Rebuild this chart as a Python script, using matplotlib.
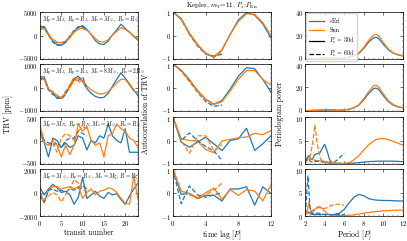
import numpy as np
import matplotlib
matplotlib.use("Agg")
import matplotlib.pyplot as plt
import matplotlib.transforms as mtrans
from matplotlib.ticker import AutoMinorLocator

# ---------------- data ----------------
transit_30 = list(range(24))
transit_60 = list(range(12))
lags_30 = list(range(13))
lags_60 = list(range(7))

# TRV [ppm], per row (4 scenarios)
TRV_ERI_30 = [
    [1800, 1900, 300, -1200, -1900, -2100, -1500, -300, 900, 1700, 2100, 1300, 200, -1100, -1800, -1900, -1200, 100, 1200, 2400, 1500, 700, -200, -1000],
    [450, 450, -80, -210, -470, -450, -250, 50, 380, 480, 250, -50, -250, -380, -440, -420, -250, 50, 350, 620, 400, 150, -100, -340],
    [150, -50, -350, 50, 0, -150, -50, -150, -100, 100, 50, -200, 0, -50, 100, 50, 350, 100, 0, -50, 250, -250, -250, -250],
    [400, -200, 300, 700, 400, 0, 100, -200, -1000, -400, 1300, -500, -200, 100, -300, -500, 0, -200, -100, -600, -1000, -300, 300, 800],
]
TRV_SUN_30 = [
    [1300, 1600, 200, -800, -1400, -1600, -1300, -500, 700, 1300, 1700, 1200, 300, -700, -1300, -1400, -900, 100, 900, 1700, 1300, 700, -100, -700],
    [380, 350, -50, -200, -350, -420, -250, 0, 300, 400, 300, 50, -100, -200, -280, -260, -180, 0, 200, 350, 350, 100, -150, -200],
    [350, -50, -100, 0, -100, -350, -100, -300, -100, 350, 200, 300, 0, -100, -50, -350, 100, 150, 350, 250, 200, 50, 0, -150],
    [-300, -900, 200, 500, 500, 300, 400, 500, 300, 500, -500, 0, 300, -200, 100, 200, 400, 300, 0, -500, -900, -1000, 1400, -600],
]
TRV_ERI_60 = [
    [2000, 1700, 100, -1400, -2100, -2000, -1300, -100, 1100, 1900, 2000, 1000],
    [400, 350, -100, -300, -400, -500, -300, 100, 350, 300, 450, 0],
    [200, 0, -50, -100, -50, -150, 0, 50, 50, 200, 150, 100],
    [-200, -800, 200, 300, 100, 200, 0, 300, 200, 400, 600, 300],
]
TRV_SUN_60 = [
    [1500, 1400, 0, -1000, -1500, -1500, -1100, -300, 900, 1500, 1500, 900],
    [300, 400, -150, -150, -350, -450, -150, 100, 450, 200, 350, -50],
    [150, -50, -100, -50, -250, 50, 150, 100, 0, 200, 300, 250],
    [0, -600, -300, 0, -200, -800, -200, 300, 1100, 800, 200, 100],
]

# Autocorrelation of TRV
ACF_ERI_30 = [
    [1, 0.70, 0.09, -0.40, -0.76, -0.93, -0.62, 0.05, 0.66, 0.97, 0.87, 0.49, -0.10],
    [1, 0.74, 0.34, -0.15, -0.50, -0.71, -0.55, -0.07, 0.48, 0.84, 0.80, 0.34, -0.20],
    [1, -0.07, -0.29, -0.07, 0.14, -0.14, -0.43, 0.00, 0.07, 0.52, -0.42, -0.14, 0.20],
    [1, -0.08, -0.04, -0.26, -0.12, -0.12, -0.36, 0.15, 0.15, 0.24, -0.54, 0.24, -0.04],
]
ACF_SUN_30 = [
    [1, 0.72, 0.10, -0.38, -0.75, -0.90, -0.60, 0.05, 0.60, 0.93, 0.90, 0.55, 0.00],
    [1, 0.72, 0.32, -0.12, -0.50, -0.72, -0.60, -0.15, 0.35, 0.72, 0.72, 0.35, 0.10],
    [1, 0.07, 0.00, -0.03, -0.38, -0.52, -0.02, 0.05, 0.12, 0.15, 0.30, 0.25, 0.42],
    [1, 0.06, -0.04, -0.22, -0.01, 0.19, -0.29, 0.12, -0.12, 0.12, 0.06, -0.36, 0.33],
]
ACF_ERI_60 = [
    [1, 0.70, 0.05, -0.45, -0.80, -0.88, -0.80],
    [1, 0.70, 0.30, -0.20, -0.60, -0.80, -0.75],
    [1, 0.00, 0.32, 0.00, -0.25, -0.45, -0.84],
    [1, -0.48, 0.28, -0.10, -0.20, -0.10, 0.00],
]
ACF_SUN_60 = [
    [1, 0.72, 0.08, -0.42, -0.78, -0.92, -0.70],
    [1, 0.70, 0.25, -0.20, -0.55, -0.70, -0.60],
    [1, 0.00, -0.55, 0.20, 0.20, -0.43, -0.17],
    [1, 0.00, -0.10, -0.25, -0.10, 0.10, 0.40],
]

# Periodogram power
period_30 = [2, 2.2, 2.4, 2.6, 2.8, 3, 3.25, 3.5, 3.75, 4, 4.25, 4.5, 4.75, 5, 5.5, 6,
             6.5, 7, 7.5, 8, 8.5, 9, 9.25, 9.5, 10, 10.5, 11, 11.5, 12]
period_60 = [2, 2.1, 2.2, 2.3, 2.4, 2.5, 2.6, 2.8, 3.0, 3.2, 3.4, 3.6, 3.8, 4, 4.25,
             4.5, 4.75, 5, 5.25, 5.5, 5.75, 6]
PG_ERI_30 = [
    [0.2, 0.2, 0.3, 0.3, 0.3, 0.3, 0.4, 0.5, 0.6, 0.7, 0.9, 1.0, 0.8, 0.5, 0.4, 0.7, 1.4, 2.5, 4.8, 9.0, 14.5, 18.0, 18.5, 17.5, 12.5, 7.8, 5.0, 3.5, 2.6],
    [0.3, 0.3, 0.3, 0.4, 0.4, 0.4, 0.5, 0.6, 0.7, 0.8, 1.0, 1.1, 0.9, 0.6, 0.5, 0.8, 1.5, 2.6, 5.0, 9.5, 15.0, 19.0, 19.5, 18.5, 13.0, 8.0, 5.0, 3.5, 2.6],
    [0.3, 1.3, 1.8, 1.0, 1.2, 2.0, 2.2, 2.3, 3.3, 4.2, 2.8, 1.0, 0.3, 0.2, 0.1, 0.1, 0.15, 0.2, 0.3, 0.4, 0.5, 0.55, 0.6, 0.6, 0.6, 0.6, 0.6, 0.55, 0.5],
    [0.3, 1.0, 0.8, 0.4, 0.3, 0.3, 0.3, 0.3, 0.3, 0.3, 0.3, 0.3, 0.3, 0.35, 0.6, 1.4, 2.8, 4.0, 4.6, 4.3, 3.7, 3.45, 3.4, 3.35, 3.3, 3.3, 3.25, 3.2, 3.2],
]
PG_SUN_30 = [
    [0.2, 0.2, 0.3, 0.3, 0.3, 0.3, 0.4, 0.5, 0.6, 0.8, 1.0, 1.2, 0.9, 0.6, 0.4, 0.8, 1.5, 2.8, 5.3, 10.0, 16.0, 20.3, 21.0, 19.8, 14.0, 8.5, 5.3, 3.7, 2.8],
    [0.3, 0.3, 0.3, 0.4, 0.4, 0.5, 0.6, 0.7, 0.8, 1.0, 1.2, 1.3, 1.0, 0.7, 0.5, 0.9, 1.6, 2.9, 5.5, 10.5, 16.5, 21.5, 22.0, 20.5, 14.5, 8.8, 5.5, 3.8, 2.8],
    [0.4, 1.0, 1.4, 1.1, 0.9, 0.8, 0.7, 0.65, 0.6, 0.55, 0.5, 0.4, 0.3, 0.2, 0.1, 0.1, 0.3, 0.9, 1.8, 3.0, 4.1, 4.9, 5.2, 5.35, 5.4, 5.2, 4.8, 4.4, 4.0],
    [0.3, 0.8, 3.0, 1.2, 0.8, 1.4, 1.9, 2.0, 1.6, 1.0, 0.5, 0.25, 0.15, 0.1, 0.1, 0.1, 0.15, 0.25, 0.4, 0.6, 0.75, 0.9, 0.95, 1.0, 1.1, 1.15, 1.2, 1.25, 1.25],
]
PG_ERI_60 = [
    [0.1, 0.1, 0.2, 0.2, 0.2, 0.2, 0.2, 0.3, 0.3, 0.3, 0.3, 0.3, 0.4, 0.4, 0.5, 0.5, 0.5, 0.4, 0.4, 0.3, 0.3, 0.3],
    [0.3, 0.3, 0.3, 0.3, 0.4, 0.4, 0.4, 0.4, 0.5, 0.5, 0.5, 0.6, 0.6, 0.7, 0.8, 0.8, 0.7, 0.6, 0.5, 0.5, 0.4, 0.4],
    [0.3, 0.6, 1.0, 1.2, 1.0, 0.7, 0.5, 0.4, 0.5, 0.6, 0.6, 0.5, 0.4, 0.3, 0.2, 0.2, 0.2, 0.4, 0.8, 1.3, 1.8, 2.3],
    [0.5, 2.0, 6.0, 8.5, 5.5, 2.0, 0.8, 0.5, 0.5, 0.6, 0.6, 0.5, 0.4, 0.3, 0.3, 0.3, 0.3, 0.3, 0.3, 0.3, 0.3, 0.3],
]
PG_SUN_60 = [
    [0.1, 0.1, 0.1, 0.2, 0.2, 0.2, 0.2, 0.2, 0.3, 0.3, 0.3, 0.4, 0.4, 0.5, 0.6, 0.6, 0.5, 0.5, 0.4, 0.4, 0.3, 0.3],
    [0.3, 0.3, 0.3, 0.4, 0.4, 0.4, 0.5, 0.5, 0.5, 0.6, 0.6, 0.7, 0.8, 0.9, 1.0, 0.9, 0.8, 0.7, 0.6, 0.5, 0.5, 0.4],
    [0.3, 0.4, 0.6, 0.9, 1.2, 1.6, 2.4, 4.8, 8.3, 5.0, 2.5, 1.0, 0.5, 0.3, 0.2, 0.2, 0.2, 0.2, 0.2, 0.2, 0.2, 0.2],
    [0.3, 0.4, 0.5, 0.6, 0.7, 0.8, 0.9, 1.2, 1.5, 1.7, 1.8, 1.7, 1.6, 1.6, 1.8, 2.1, 2.3, 2.45, 2.5, 2.5, 2.4, 2.3],
]

scenario_labels = [
    r"$M_p=M_J,\,R_p=R_J,\,M_s=M_\oplus,\,R_s=R_\oplus$",
    r"$M_p=M_J,\,R_p=R_J,\,M_s=8M_\oplus,\,R_s=2R_\oplus$",
    r"$M_p=M_N,\,R_p=R_N,\,M_s=M_\oplus,\,R_s=R_\oplus$",
    r"$M_p=M_\oplus,\,R_p=R_\oplus,\,M_s=M_{☾},\,R=R_{☾}$",
]
trv_ylims = [5000, 1000, 500, 2000]
pg_ylims = [40, 40, 10, 10]
pg_yticks = [[0, 20, 40], [0, 20, 40], [0, 5, 10], [0, 5, 10]]

C_ERI = "#1f77b4"
C_SUN = "#ff7f0e"

# ---------------- style ----------------
plt.rcParams.update({
    "font.family": ["cmr10", "DejaVu Sans"],
    "mathtext.fontset": "cm",
    "axes.formatter.use_mathtext": True,
    "font.size": 5,
    "axes.linewidth": 0.5,
    "xtick.direction": "in", "ytick.direction": "in",
    "xtick.top": True, "ytick.right": True,
    "xtick.major.size": 2.0, "ytick.major.size": 2.0,
    "xtick.minor.size": 1.0, "ytick.minor.size": 1.0,
    "xtick.major.width": 0.4, "ytick.major.width": 0.4,
    "xtick.minor.width": 0.3, "ytick.minor.width": 0.3,
    "xtick.major.pad": 2, "ytick.major.pad": 1.5,
    "xtick.labelsize": 4.8, "ytick.labelsize": 4.8,
})

fig = plt.figure(figsize=(4.07, 2.41), dpi=100)
W, H = 407.0, 241.0
col_x = [40, 173, 305]
col_w = 98
row_top = [12, 64, 117, 169]
row_h = 47

axes = [[None] * 3 for _ in range(4)]
for r in range(4):
    for c in range(3):
        ax = fig.add_axes([col_x[c] / W, 1 - (row_top[r] + row_h) / H, col_w / W, row_h / H])
        ax.xaxis.set_minor_locator(AutoMinorLocator())
        ax.yaxis.set_minor_locator(AutoMinorLocator())
        axes[r][c] = ax

lw = 0.9
for r in range(4):
    # TRV
    ax = axes[r][0]
    ax.plot(transit_30, TRV_ERI_30[r], color=C_ERI, lw=lw)
    ax.plot(transit_30, TRV_SUN_30[r], color=C_SUN, lw=lw)
    ax.plot(transit_60, TRV_ERI_60[r], color=C_ERI, lw=lw, ls="--")
    ax.plot(transit_60, TRV_SUN_60[r], color=C_SUN, lw=lw, ls="--")
    lim = trv_ylims[r]
    ax.set_ylim(-lim, lim)
    ax.set_yticks([-lim, 0, lim])
    ax.set_xlim(0, 23)
    ax.set_xticks([0, 5, 10, 15, 20])
    ax.text(0.02, 0.96, scenario_labels[r], transform=ax.transAxes, fontsize=4.0,
            va="top", ha="left")

    # ACF
    ax = axes[r][1]
    ax.plot(lags_30, ACF_ERI_30[r], color=C_ERI, lw=lw)
    ax.plot(lags_30, ACF_SUN_30[r], color=C_SUN, lw=lw)
    ax.plot(lags_60, ACF_ERI_60[r], color=C_ERI, lw=lw, ls="--")
    ax.plot(lags_60, ACF_SUN_60[r], color=C_SUN, lw=lw, ls="--")
    ax.set_ylim(-1, 1)
    ax.set_yticks([-1, 0, 1])
    ax.set_xlim(0, 12)
    ax.set_xticks([0, 4, 8, 12])

    # Periodogram
    ax = axes[r][2]
    ax.plot(period_30, PG_ERI_30[r], color=C_ERI, lw=lw)
    ax.plot(period_30, PG_SUN_30[r], color=C_SUN, lw=lw)
    ax.plot(period_60, PG_ERI_60[r], color=C_ERI, lw=lw, ls="--")
    ax.plot(period_60, PG_SUN_60[r], color=C_SUN, lw=lw, ls="--")
    ax.set_ylim(0, pg_ylims[r])
    ax.set_yticks(pg_yticks[r])
    ax.set_xlim(2, 12)
    ax.set_xticks([2, 4, 6, 8, 10, 12])

    if r < 3:
        for c in range(3):
            axes[r][c].tick_params(labelbottom=False)

# nudge the extreme y tick labels slightly apart between stacked rows
for r in range(4):
    for c in range(3):
        ax = axes[r][c]
        labels = ax.get_yticklabels()
        if r > 0:
            labels[-1].set_transform(labels[-1].get_transform() +
                                     mtrans.ScaledTranslation(0, -1.2 / 72, fig.dpi_scale_trans))
        if r < 3:
            labels[0].set_transform(labels[0].get_transform() +
                                    mtrans.ScaledTranslation(0, 1.2 / 72, fig.dpi_scale_trans))

# legend
ax = axes[0][2]
h1, = ax.plot([], [], color=C_ERI, lw=lw)
h2, = ax.plot([], [], color=C_SUN, lw=lw)
h3, = ax.plot([], [], color="k", lw=lw)
h4, = ax.plot([], [], color="k", lw=lw, ls="--")
ax.legend([h1, h2, h3, h4], [r"$\epsilon$Eri", "Sun", r"$P_{\rm s}$ = 30d", r"$P_{\rm s}$ = 60d"],
          loc="upper left", fontsize=4.3, handlelength=2.6, labelspacing=0.45,
          borderpad=0.4, handletextpad=0.8, borderaxespad=0.25)

axes[3][0].set_xlabel("transit number", fontsize=5.5, labelpad=0.8)
axes[3][1].set_xlabel(r"time lag [$P$]", fontsize=5.5, labelpad=0.8)
axes[3][2].set_xlabel(r"Period [$P$]", fontsize=5.5, labelpad=0.8)

fig.text(8 / W, 1 - 114 / H, "TRV [ppm]", rotation=90, ha="center", va="center", fontsize=5.5)
fig.text(146 / W, 1 - 114 / H, "Autocorrelation of TRV", rotation=90, ha="center", va="center", fontsize=5.5)
fig.text(280 / W, 1 - 114 / H, "Periodogram power", rotation=90, ha="center", va="center", fontsize=5.5)
fig.text(222 / W, 1 - 5 / H, r"Kepler, $m_V$=11, $P_s$:$P_{\rm En}$", ha="center", va="center", fontsize=5)

fig.savefig("out.png", dpi=100)
